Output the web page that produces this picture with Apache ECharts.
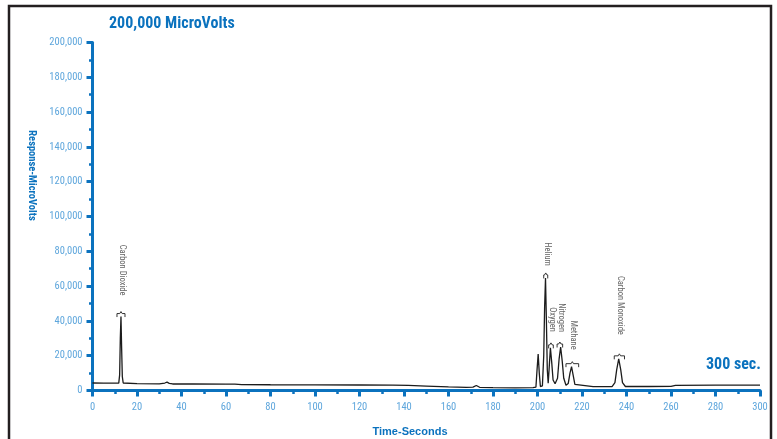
<!DOCTYPE html>
<html>
<head>
<meta charset="utf-8">
<style>
  html, body { margin: 0; padding: 0; background: #ffffff; }
  #chart { width: 777px; height: 439px; }
</style>
<script src="https://cdn.jsdelivr.net/npm/echarts@6.0.0/dist/echarts.min.js"></script>
</head>
<body>
<div id="chart"></div>
<script>
// Chromatogram trace: retention time (s) and detector response (µV)
const times = [
  0, 5, 11.8, 12.2, 12.5, 12.8, 13.1, 13.4, 13.8, 14.5,
  20, 30, 32.5, 33.5, 34.5, 36, 45, 60, 64, 67,
  80, 90, 100, 120, 135, 142, 150, 160, 168, 171,
  172.5, 174, 180, 190, 198, 199.3, 199.8, 200.3, 200.8, 201.3,
  202.2, 202.8, 203.2, 203.6, 204.0, 204.4, 204.8, 205.2, 205.8, 206.4,
  207.0, 207.9, 209.0, 209.7, 210.4, 211.1, 211.8, 212.8, 213.8, 214.6,
  215.3, 216.0, 216.8, 217.6, 225, 233.5, 234.8, 235.6, 236.5, 237.4,
  238.2, 239.5, 250, 260, 262, 280, 300
];
const signal = [
  4300, 4250, 4200, 9000, 30000, 42500, 24000, 8000, 4300, 3950,
  3900, 3800, 4300, 4800, 4100, 3750, 3750, 3700, 3650, 3400,
  3300, 3250, 3250, 3150, 3050, 2900, 2550, 2100, 1850, 1900,
  2900, 1850, 1700, 1550, 1600, 2000, 12000, 21000, 10000, 2300,
  2600, 20000, 48000, 64700, 40000, 12000, 4200, 12000, 24500, 16000,
  6000, 3900, 7000, 18000, 25000, 17000, 7000, 3000, 4000, 10000,
  13700, 9000, 3500, 2400, 2200, 2250, 4500, 12000, 18200, 12000,
  4500, 2300, 2300, 2350, 3000, 3050, 3050
];

// Identified peaks and their integration windows (s)
const peakNames = ['Carbon Dioxide', 'Helium', 'Oxygen', 'Nitrogen', 'Methane', 'Carbon Monoxide'];
const windowStart = [11.0, 202.8, 205.0, 208.8, 212.8, 234.5];
const windowEnd   = [14.6, 204.6, 207.1, 211.3, 218.5, 239.1];

// Axis ticks
const xTicks = [0, 20, 40, 60, 80, 100, 120, 140, 160, 180, 200, 220, 240, 260, 280, 300];
const yTicks = [0, 20000, 40000, 60000, 80000, 100000, 120000, 140000, 160000, 180000, 200000];

// Layout for peak captions: distance (px) from bracket to caption end
const captionGap = [18, 9, 13, 12, 14, 21];

const BLUE = '#0b72be';
const LIGHT_BLUE = '#5ea6dc';
const COND = '"Roboto Condensed", "DejaVu Sans Condensed", sans-serif';

const fmt = v => String(v).replace(/\B(?=(\d{3})+(?!\d))/g, ',');

// Highest response inside each peak window, used to seat its bracket
const peakTop = windowStart.map((s, i) => {
  let m = -Infinity;
  times.forEach((t, k) => { if (t >= s && t <= windowEnd[i]) m = Math.max(m, signal[k]); });
  return m;
});

const chart = echarts.init(document.getElementById('chart'), null, { renderer: 'canvas' });

const axisCommon = {
  type: 'value',
  axisLine: { show: true, onZero: false, lineStyle: { color: BLUE, width: 3 } },
  axisTick: { show: true, inside: false, length: 6, lineStyle: { color: BLUE, width: 3 } },
  minorTick: { show: true, splitNumber: 2, length: 3.5, lineStyle: { color: BLUE, width: 2.5 } },
  splitLine: { show: false },
  minorSplitLine: { show: false },
  axisLabel: { color: LIGHT_BLUE, fontFamily: COND, fontSize: 10.5 }
};

chart.setOption({
  animation: false,
  backgroundColor: '#ffffff',
  grid: { left: 92.5, right: 17, top: 42.5, bottom: 48.5, containLabel: false, outerBoundsMode: 'none' },
  xAxis: Object.assign({}, axisCommon, {
    min: xTicks[0], max: xTicks[xTicks.length - 1], interval: xTicks[1] - xTicks[0],
    axisLabel: Object.assign({}, axisCommon.axisLabel, { margin: 11, formatter: v => String(v) })
  }),
  yAxis: Object.assign({}, axisCommon, {
    min: yTicks[0], max: yTicks[yTicks.length - 1], interval: yTicks[1] - yTicks[0],
    axisLabel: Object.assign({}, axisCommon.axisLabel, { margin: 10, formatter: v => fmt(v) })
  }),
  series: [
    {
      type: 'line',
      data: times.map((t, i) => [t, signal[i]]),
      showSymbol: false,
      symbol: 'none',
      smooth: false,
      lineStyle: { color: '#1c1c1c', width: 1.3 },
      z: 3
    },
    {
      type: 'custom',
      clip: false,
      silent: true,
      z: 4,
      encode: { x: [0, 1], y: 2 },
      data: peakNames.map((n, i) => [windowStart[i], windowEnd[i], peakTop[i]]),
      renderItem: function (params, api) {
        const i = params.dataIndex;
        const a = api.coord([api.value(0), api.value(2)]);
        const b = api.coord([api.value(1), api.value(2)]);
        const y = a[1] - 3;
        const xm = (a[0] + b[0]) / 2;
        return {
          type: 'group',
          children: [
            {
              type: 'polyline',
              shape: { points: [[a[0], y + 3.5], [a[0], y], [xm - 1.2, y], [xm, y - 2], [xm + 1.2, y], [b[0], y], [b[0], y + 3.5]] },
              style: { stroke: '#333333', fill: null, lineWidth: 1 }
            },
            {
              type: 'text',
              x: xm + 1,
              y: y - captionGap[i],
              rotation: -Math.PI / 2,
              style: {
                text: peakNames[i],
                align: 'right',
                verticalAlign: 'middle',
                font: '8.5px ' + COND,
                fill: '#666666'
              }
            }
          ]
        };
      }
    }
  ],
  graphic: [
    {
      type: 'rect',
      shape: { x: 9, y: 6, width: 762, height: 460 },
      style: { fill: 'none', stroke: '#231f20', lineWidth: 2.5 },
      silent: true
    },
    {
      type: 'text', x: 109, y: 24,
      style: { text: '200,000 MicroVolts', align: 'left', verticalAlign: 'middle',
               font: 'bold 16px ' + COND, fill: BLUE }
    },
    {
      type: 'text', x: 706, y: 365,
      style: { text: '300 sec.', align: 'left', verticalAlign: 'middle',
               font: 'bold 16px ' + COND, fill: BLUE }
    },
    {
      type: 'text', x: 32, y: 175.5, rotation: -Math.PI / 2,
      style: { text: 'Response-MicroVolts', align: 'center', verticalAlign: 'middle',
               font: 'bold 10.5px ' + COND, fill: BLUE }
    },
    {
      type: 'text', x: 410, y: 432,
      style: { text: 'Time-Seconds', align: 'center', verticalAlign: 'middle',
               font: 'bold 11px "Liberation Sans", Arial, sans-serif', fill: BLUE }
    }
  ]
});
</script>
</body>
</html>
